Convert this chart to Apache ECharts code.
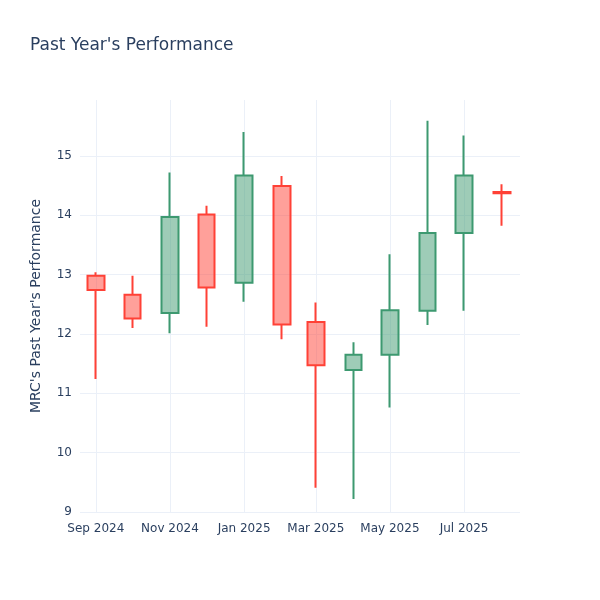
<!DOCTYPE html>
<html>
<head>
<meta charset="utf-8">
<script src="https://cdn.jsdelivr.net/npm/echarts@6/dist/echarts.min.js"></script>
<style>html,body{margin:0;padding:0;background:#fff}#c{width:600px;height:600px}</style>
</head>
<body>
<div id="c"></div>
<script>
const dates = ['2024-09-01','2024-10-01','2024-11-01','2024-12-01','2025-01-01','2025-02-01','2025-03-01','2025-04-01','2025-05-01','2025-06-01','2025-07-01','2025-08-01'];
const openV  = [12.98, 12.66, 12.35, 14.01, 12.86, 14.49, 12.20, 11.39, 11.65, 12.39, 13.70, 14.39];
const closeV = [12.74, 12.26, 13.97, 12.78, 14.67, 12.16, 11.47, 11.65, 12.40, 13.70, 14.67, 14.37];
const lowV   = [11.24, 12.10, 12.01, 12.12, 12.54, 11.91,  9.41,  9.22, 10.76, 12.15, 12.39, 13.82];
const highV  = [13.04, 12.98, 14.72, 14.16, 15.40, 14.66, 12.53, 11.86, 13.34, 15.59, 15.34, 14.52];
const yTicks = [9, 10, 11, 12, 13, 14, 15];

const data = dates.map((d, i) => [d, openV[i], closeV[i], lowV[i], highV[i]]);
const DAY = 86400000;
const GRID = '#ebf0f8';
const NONE = 'rgba(0,0,0,0)';
const FONT = '"DejaVu Sans", verdana, arial, sans-serif';
const chart = echarts.init(document.getElementById('c'));
chart.setOption({
  animation: false,
  backgroundColor: '#fff',
  textStyle: { fontFamily: FONT },
  title: {
    text: "Past Year's Performance",
    left: 25, top: 32,
    textStyle: { fontSize: 17, fontWeight: 'normal', color: '#2a3f5f', fontFamily: FONT }
  },
  grid: { left: 80, right: 80, top: 100, bottom: 88 },
  xAxis: {
    type: 'time',
    min: '2024-08-19',
    max: '2025-08-16',
    minInterval: 61 * DAY,
    maxInterval: 62 * DAY,
    axisLine: { show: false },
    axisTick: { show: false },
    splitLine: { show: true, lineStyle: { color: [NONE, GRID, GRID, GRID, GRID, GRID, GRID, NONE], width: 1 } },
    axisLabel: { formatter: '{MMM} {yyyy}', color: '#2a3f5f', fontSize: 12, margin: 11, hideOverlap: false, fontFamily: FONT }
  },
  yAxis: {
    type: 'value',
    min: yTicks[0],
    max: 15.94,
    interval: 1,
    name: "MRC's Past Year's Performance",
    nameLocation: 'middle',
    nameGap: 37,
    nameTextStyle: { color: '#2a3f5f', fontSize: 14, fontFamily: FONT },
    axisLine: { show: false },
    axisTick: { show: false },
    splitLine: { show: true, lineStyle: { color: [GRID, GRID, GRID, GRID, GRID, GRID, GRID, NONE], width: 1 } },
    axisLabel: { color: '#2a3f5f', fontSize: 12, margin: 8, showMaxLabel: false, fontFamily: FONT }
  },
  series: [{
    type: 'candlestick',
    data: data,
    barWidth: 17,
    itemStyle: {
      color: 'rgba(61,153,112,0.5)',
      color0: 'rgba(255,65,54,0.5)',
      borderColor: '#3D9970',
      borderColor0: '#FF4136',
      borderWidth: 2
    }
  }]
});
</script>
</body>
</html>
